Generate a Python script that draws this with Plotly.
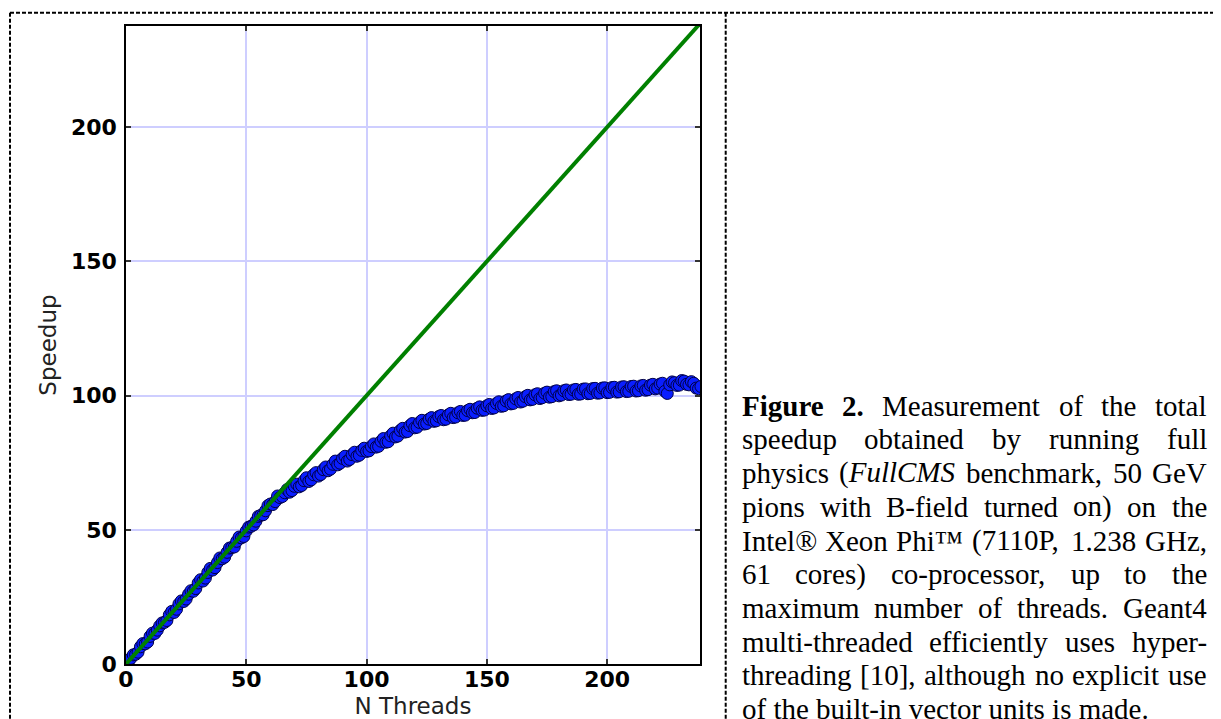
import re
import plotly.graph_objects as go

# ---------------- data ----------------
threads_odd = [1, 3, 5, 7, 9, 11, 13, 15, 17, 19, 21, 23, 25, 27, 29, 31, 33, 35, 37, 39,
               41, 43, 45, 47, 49, 51, 53, 55, 57, 59, 61, 63, 65, 67, 69, 71, 73, 75, 77, 79,
               81, 83, 85, 87, 89, 91, 93, 95, 97, 99, 101, 103, 105, 107, 109, 111, 113, 115, 117, 119,
               121, 123, 125, 127, 129, 131, 133, 135, 137, 139, 141, 143, 145, 147, 149, 151, 153, 155, 157, 159,
               161, 163, 165, 167, 169, 171, 173, 175, 177, 179, 181, 183, 185, 187, 189, 191, 193, 195, 197, 199,
               201, 203, 205, 207, 209, 211, 213, 215, 217, 219, 221, 223, 225, 227, 229, 231, 233, 235, 237, 239]
speedup_odd = [1.0, 3.4, 4.4, 7.6, 8.2, 11.5, 12.6, 15.3, 16.2, 19.6, 20.4, 23.5, 24.2, 27.3, 28.1, 31.4, 32.0, 35.6, 35.9, 39.5,
               39.8, 43.2, 43.6, 47.3, 47.5, 51.0, 51.8, 55.0, 55.6, 59.0, 59.4, 62.6, 62.4, 65.0, 64.6, 67.0, 66.5, 69.4, 68.6, 71.3,
               70.6, 73.4, 72.6, 75.6, 74.8, 77.4, 76.2, 78.9, 77.8, 80.4, 79.4, 82.0, 81.1, 84.0, 82.8, 86.0, 84.9, 87.8, 86.6, 89.6,
               88.2, 90.8, 89.6, 91.8, 90.6, 92.6, 91.2, 93.4, 92.0, 94.1, 92.7, 94.9, 93.7, 95.8, 94.6, 96.7, 95.4, 97.7, 96.2, 98.5,
               97.1, 99.3, 97.9, 100.1, 98.6, 100.7, 99.2, 101.3, 99.6, 101.8, 100.2, 102.1, 100.5, 102.3, 100.6, 102.5, 100.8, 102.7, 101.0, 102.9,
               101.2, 103.1, 101.4, 103.3, 101.6, 103.5, 101.8, 103.8, 102.2, 104.2, 102.8, 104.6, 100.8, 105.1, 103.8, 105.6, 104.2, 105.2, 102.8, 103.4]
threads_even = [2, 4, 6, 8, 10, 12, 14, 16, 18, 20, 22, 24, 26, 28, 30, 32, 34, 36, 38, 40,
                42, 44, 46, 48, 50, 52, 54, 56, 58, 60, 62, 64, 66, 68, 70, 72, 74, 76, 78, 80,
                82, 84, 86, 88, 90, 92, 94, 96, 98, 100, 102, 104, 106, 108, 110, 112, 114, 116, 118, 120,
                122, 124, 126, 128, 130, 132, 134, 136, 138, 140, 142, 144, 146, 148, 150, 152, 154, 156, 158, 160,
                162, 164, 166, 168, 170, 172, 174, 176, 178, 180, 182, 184, 186, 188, 190, 192, 194, 196, 198, 200,
                202, 204, 206, 208, 210, 212, 214, 216, 218, 220, 222, 224, 226, 228, 230, 232, 234, 236, 238]
speedup_even = [2.1, 3.6, 6.4, 7.5, 10.3, 11.4, 14.2, 15.5, 18.3, 19.2, 22.4, 23.3, 26.0, 27.1, 30.2, 30.9, 34.1, 35.0, 37.8, 39.2,
                41.6, 43.4, 45.7, 47.0, 49.6, 51.3, 53.2, 55.4, 57.1, 59.6, 60.5, 62.0, 63.8, 64.0, 66.2, 66.0, 68.3, 68.0, 70.5, 70.0,
                72.4, 72.0, 74.4, 74.2, 76.6, 75.6, 78.0, 77.4, 79.6, 79.2, 81.0, 80.8, 83.0, 82.6, 85.0, 84.6, 87.0, 86.4, 88.8, 88.0,
                90.0, 89.4, 91.2, 90.4, 92.2, 91.0, 92.8, 91.8, 93.6, 92.6, 94.4, 93.6, 95.3, 94.5, 96.2, 95.2, 97.1, 96.0, 98.0, 96.9,
                98.8, 97.6, 99.6, 98.4, 100.3, 98.9, 100.9, 99.4, 101.5, 99.9, 101.8, 100.4, 102.1, 100.5, 102.4, 100.7, 102.6, 100.9, 102.8, 101.1,
                103.0, 101.3, 103.2, 101.5, 103.4, 101.7, 103.6, 102.0, 103.9, 102.5, 104.3, 101.6, 104.0, 104.8, 103.9, 105.4, 104.0, 104.6, 102.6]
ideal_threads = [0, 240]
ideal_speedup = [0, 240]
tick_values = [0, 50, 100, 150, 200]
tick_labels = ["0", "50", "100", "150", "200"]
x_title = "N Threads"
y_title = "Speedup"

caption_lines = [
    ["<b>Figure</b>", "<b>2.</b>", "Measurement", "of", "the", "total"],
    ["speedup", "obtained", "by", "running", "full"],
    ["physics", "(<i>FullCMS</i>", "benchmark,", "50", "GeV"],
    ["pions", "with", "B-field", "turned", "on)", "on", "the"],
    ["Intel®", "Xeon", "Phi™", "(7110P,", "1.238", "GHz,"],
    ["61", "cores)", "co-processor,", "up", "to", "the"],
    ["maximum", "number", "of", "threads.", "Geant4"],
    ["multi-threaded", "efficiently", "uses", "hyper-"],
    ["threading", "[10],", "although", "no", "explicit", "use"],
]
caption_last = "of the built-in vector units is made."

# measured points, in thread order
points = sorted(zip(threads_odd + threads_even, speedup_odd + speedup_even))
threads = [p[0] for p in points]
speedup = [p[1] for p in points]

# ---------------- geometry ----------------
# The page body has an 8px margin, so the figure is sized/positioned to compensate.
OFF = 8
PAGE_W, PAGE_H = 1221, 719
W, H = PAGE_W - OFF, PAGE_H - OFF
PL, PR, PT, PB = 126, 700, 26, 664          # plot area in page pixels
fl, fr, ft, fb = PL - OFF, PR - OFF, PT - OFF, PB - OFF

def px_x(px):  # page pixel -> paper x
    return (px - OFF - fl) / (fr - fl)
def px_y(py):  # page pixel -> paper y
    return (fb - (py - OFF)) / (fb - ft)

# Times-like advance widths (1/1000 em) for justification
ROMAN = dict(zip("abcdefghijklmnopqrstuvwxyz",
                 [444, 500, 444, 500, 444, 333, 500, 500, 278, 278, 500, 278, 778, 500, 500, 500, 500, 333, 389, 278, 500, 500, 722, 500, 500, 444]))
ROMAN.update(dict(zip("ABCDEFGHIJKLMNOPQRSTUVWXYZ",
                      [722, 667, 667, 722, 611, 556, 722, 722, 333, 389, 722, 611, 889, 722, 722, 556, 722, 667, 556, 611, 722, 722, 944, 722, 722, 611])))
ROMAN.update({c: 500 for c in "0123456789"})
ROMAN.update({" ": 250, "(": 333, ")": 333, ",": 250, ".": 250, "-": 333, "[": 333, "]": 333, "®": 760, "™": 980})
BOLD = dict(ROMAN); BOLD.update({"F": 611, "u": 556, "r": 444, "2": 500, ".": 250, "i": 278, "g": 500, "e": 444})
ITAL = dict(ROMAN); ITAL.update({"F": 611, "u": 500, "l": 278, "C": 667, "M": 833, "S": 500})
FS = 29

def word_width(w):
    total = 0
    style = "r"
    for part in re.split(r"(</?[bi]>)", w):
        if part == "<b>":
            style = "b"; continue
        if part == "<i>":
            style = "i"; continue
        if part in ("</b>", "</i>"):
            style = "r"; continue
        table = BOLD if style == "b" else ITAL if style == "i" else ROMAN
        total += sum(table.get(c, 500) for c in part)
    return total * FS / 1000.0

fig = go.Figure()

fig.add_trace(go.Scatter(
    x=threads, y=speedup, mode="markers",
    marker=dict(size=12, color="rgb(10,30,255)", line=dict(color="rgb(0,0,70)", width=1)),
    showlegend=False, hoverinfo="skip"))
fig.add_trace(go.Scatter(
    x=ideal_threads, y=ideal_speedup, mode="lines",
    line=dict(color="rgb(0,128,0)", width=4),
    showlegend=False, hoverinfo="skip"))

axis_common = dict(
    showline=True, linecolor="black", linewidth=1.5, mirror="allticks",
    ticks="inside", ticklen=5, tickwidth=1.5, tickcolor="#333",
    showgrid=True, gridcolor="rgb(206,206,255)", gridwidth=2,
    zeroline=False, automargin=False,
    tickvals=tick_values, ticktext=tick_labels,
    tickfont=dict(family="DejaVu Sans", size=22, color="black", weight="bold"),
)

fig.update_xaxes(range=[0, 238.6], title=dict(text=x_title, font=dict(family="DejaVu Sans", size=23, color="#222"), standoff=27),
                 ticklabelstandoff=-5, **axis_common)
fig.update_yaxes(range=[0, 237.7], title=dict(text=y_title, font=dict(family="DejaVu Sans", size=23, color="#222"), standoff=8),
                 ticklabelstandoff=3, **axis_common)

# ---------------- caption (justified, word by word) ----------------
annotations = []
L, R = 741.5, 1207.0          # page pixels
base0, lead = 415.5, 33.75    # page pixels
cap_font = dict(family="Liberation Serif", size=FS, color="black")
for i, words in enumerate(caption_lines):
    baseline = base0 + i * lead
    yc = px_y(baseline - 10)
    widths = [word_width(w) for w in words]
    gap = (R - L - sum(widths)) / (len(words) - 1)
    xpos = L
    for j, w in enumerate(words):
        if j == len(words) - 1:
            annotations.append(dict(x=px_x(R + 2), y=yc, xref="paper", yref="paper", text=w,
                                    xanchor="right", yanchor="middle", showarrow=False, font=cap_font))
        else:
            annotations.append(dict(x=px_x(xpos - 2), y=yc, xref="paper", yref="paper", text=w,
                                    xanchor="left", yanchor="middle", showarrow=False, font=cap_font))
        xpos += widths[j] + gap
baseline = base0 + len(caption_lines) * lead
annotations.append(dict(x=px_x(L - 2), y=px_y(baseline - 10), xref="paper", yref="paper", text=caption_last,
                        xanchor="left", yanchor="middle", showarrow=False, font=cap_font))

# ---------------- dashed frame ----------------
frame = dict(color="black", width=2, dash="4px,2px")
shapes = [
    dict(type="line", xref="paper", yref="paper", x0=px_x(10), x1=px_x(PAGE_W + 10), y0=px_y(12.7), y1=px_y(12.7), line=frame),
    dict(type="line", xref="paper", yref="paper", x0=px_x(10), x1=px_x(10), y0=px_y(12.7), y1=px_y(PAGE_H + 10), line=frame),
    dict(type="line", xref="paper", yref="paper", x0=px_x(725.7), x1=px_x(725.7), y0=px_y(12.7), y1=px_y(PAGE_H + 10), line=frame),
]

fig.update_layout(
    width=W, height=H, autosize=False,
    margin=dict(l=fl, r=W - fr, t=ft, b=H - fb),
    paper_bgcolor="white", plot_bgcolor="white",
    annotations=annotations, shapes=shapes,
    showlegend=False,
)

fig.write_html("out.html")
